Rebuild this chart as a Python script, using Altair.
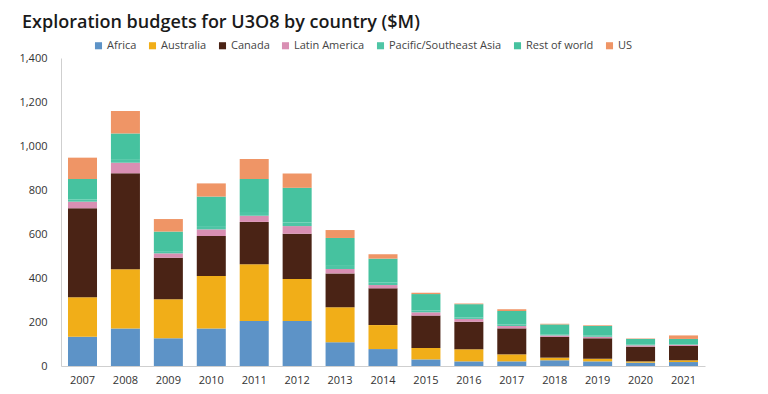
import altair as alt
import pandas as pd

years = ["2007", "2008", "2009", "2010", "2011", "2012", "2013", "2014",
         "2015", "2016", "2017", "2018", "2019", "2020", "2021"]
regions = ["Africa", "Australia", "Canada", "Latin America",
           "Pacific/Southeast Asia", "Rest of world", "US"]
colors = ["#5d93c7", "#f1ae18", "#4a2315", "#d98fb3", "#4ec5a5", "#46c29f", "#ef9566"]

africa = [133, 170, 126, 170, 205, 205, 108, 77, 30, 21, 21, 26, 21, 15, 18]
australia = [179, 270, 177, 239, 257, 190, 159, 109, 52, 55, 32, 12, 12, 6, 8]
canada = [405, 436, 189, 182, 193, 206, 154, 167, 147, 125, 118, 94, 93, 67, 65]
latin_america = [30, 48, 20, 30, 28, 35, 20, 15, 15, 13, 11, 7, 7, 6, 6]
pacific_se_asia = [10, 13, 10, 15, 17, 17, 14, 12, 8, 7, 7, 5, 5, 3, 3]
rest_of_world = [93, 120, 89, 134, 150, 157, 127, 108, 75, 60, 61, 45, 44, 26, 23]
us = [97, 102, 57, 60, 91, 65, 36, 20, 6, 3, 8, 3, 3, 2, 16]

series = [africa, australia, canada, latin_america, pacific_se_asia, rest_of_world, us]

rows = []
for i, (name, vals) in enumerate(zip(regions, series)):
    for y, v in zip(years, vals):
        rows.append({"year": y, "region": name, "value": v, "idx": i})
df = pd.DataFrame(rows)

FONT = "Open Sans"

chart = alt.Chart(df).mark_bar().encode(
    x=alt.X("year:N", sort=years, title=None,
            scale=alt.Scale(paddingInner=0.324, paddingOuter=0.163),
            axis=alt.Axis(labelAngle=0, ticks=False, domainColor="#cfcfcf",
                          labelFontSize=11, labelColor="#333333", labelPadding=8,
                          labelFont=FONT)),
    y=alt.Y("value:Q", title=None, stack="zero",
            scale=alt.Scale(domain=[0, 1400], nice=False),
            axis=alt.Axis(values=[0, 200, 400, 600, 800, 1000, 1200, 1400], format=",d",
                          grid=False, ticks=False, domainColor="#cfcfcf",
                          labelFontSize=11, labelColor="#333333", labelPadding=14,
                          labelFont=FONT)),
    color=alt.Color("region:N", scale=alt.Scale(domain=regions, range=colors),
                    legend=alt.Legend(title=None, orient="none", legendX=32, legendY=-18,
                                      direction="horizontal", symbolType="square",
                                      symbolSize=50, symbolStrokeWidth=0,
                                      labelFontSize=11, labelColor="#444444",
                                      labelFont=FONT, columnPadding=10, labelOffset=3)),
    order=alt.Order("idx:Q", sort="ascending"),
).properties(
    width=644, height=308,
    padding={"left": 53, "top": 50, "right": 40, "bottom": 20},
    autosize=alt.AutoSizeParams(type="none"),
    title=alt.Title("Exploration budgets for U3O8 by country ($M)", anchor="start",
                    frame="group", dx=-39, fontSize=18, fontWeight=600, font=FONT,
                    color="#1a1a1a", offset=8),
).configure_view(stroke=None)

chart.save("out.html", embed_options={"renderer": "svg", "actions": False})
